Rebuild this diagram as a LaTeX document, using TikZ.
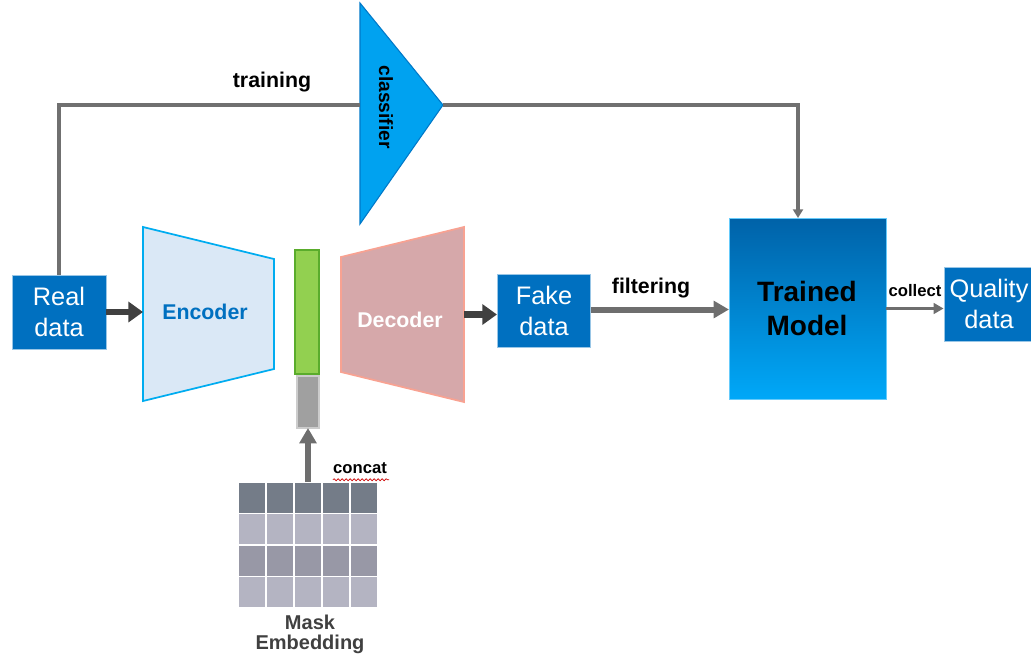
\documentclass[tikz,border=0pt]{standalone}
\usepackage{fontspec}
\setmainfont{Liberation Sans}
\usetikzlibrary{arrows.meta,decorations.pathmorphing,calc}

\definecolor{boxblue}{RGB}{0,112,192}
\definecolor{clsblue}{RGB}{0,162,240}
\definecolor{clsedge}{RGB}{0,120,200}
\definecolor{encfill}{RGB}{218,232,246}
\definecolor{encedge}{RGB}{0,172,240}
\definecolor{decfill}{RGB}{214,168,170}
\definecolor{decedge}{RGB}{248,162,146}
\definecolor{latgreen}{RGB}{146,208,80}
\definecolor{latedge}{RGB}{90,172,44}
\definecolor{mskgray}{RGB}{160,160,160}
\definecolor{mskedge}{RGB}{204,204,204}
\definecolor{darkarrow}{RGB}{64,64,64}
\definecolor{midarrow}{RGB}{110,110,110}
\definecolor{linegray}{RGB}{112,112,112}
\definecolor{tmtop}{RGB}{0,98,168}
\definecolor{tmbottom}{RGB}{0,168,248}
\definecolor{rowdark}{RGB}{116,124,136}
\definecolor{rowlight}{RGB}{180,180,194}
\definecolor{rowmid}{RGB}{152,152,166}
\definecolor{labelgray}{RGB}{64,64,64}

\tikzset{
  databox/.style={fill=boxblue, draw=boxblue!40!white, line width=0.6pt,
    text=white, align=center, inner sep=0pt,
    font=\fontsize{19}{23}\selectfont},
  holder/.style={inner sep=0pt, outer sep=0pt},
  boldlabel/.style={font=\bfseries\fontsize{16}{19}\selectfont, inner sep=0pt},
  fatarrow/.style={draw=darkarrow, line width=5pt,
    -{Triangle[length=11pt,width=15pt]}},
  midarrowstyle/.style={draw=midarrow, line width=4.5pt,
    -{Triangle[length=11.5pt,width=12.5pt]}},
  thinline/.style={draw=linegray, line width=2.3pt},
  thinarrow/.style={draw=linegray, line width=2.3pt,
    -{Triangle[length=6.5pt,width=7.5pt]}},
  collectarrow/.style={draw=midarrow, line width=2.6pt,
    -{Triangle[length=7.5pt,width=8pt]}},
  cell/.style={draw=white, line width=1.2pt},
}

\begin{document}
\begin{tikzpicture}[x=0.75pt,y=-0.75pt]
\useasboundingbox (0,0) rectangle (1031,654);

% data boxes
\node[databox, minimum width=70.5pt, minimum height=55.5pt] (rd) at (59,312) {Real\\data};
\node[databox, minimum width=70pt, minimum height=55pt] (fk) at (544,311) {Fake\\data};
\node[databox, minimum width=67.5pt, minimum height=55.5pt] (qd) at (989,304) {Quality\\data};

% trained model with vertical gradient
\node[holder, minimum width=117.75pt, minimum height=135.75pt,
      top color=tmtop, bottom color=tmbottom, draw=tmbottom!60!white, line width=0.6pt] (tm) at (807.5,308.5) {};
\node[align=center, font=\bfseries\fontsize{21}{25.5}\selectfont, inner sep=0pt] (tmtext) at (807,308) {Trained\\Model};

% encoder trapezoid
\node[holder, minimum width=98.25pt, minimum height=130.5pt] (enc) at (208.5,314) {};
\draw[fill=encfill, draw=encedge, line width=1.3pt]
  (enc.north west) -- ($(enc.north east)+(0,32)$) -- ($(enc.south east)+(0,-32)$) -- (enc.south west) -- cycle;
\node[text=boxblue, font=\bfseries\fontsize{16}{19}\selectfont, inner sep=0pt] (enctext) at (205,312) {Encoder};

% decoder trapezoid
\node[holder, minimum width=92.25pt, minimum height=131.25pt] (dec) at (402.5,314.5) {};
\draw[fill=decfill, draw=decedge, line width=1.3pt]
  ($(dec.north west)+(0,30)$) -- (dec.north east) -- (dec.south east) -- ($(dec.south west)+(0,-30)$) -- cycle;
\node[text=white, font=\bfseries\fontsize{16}{19}\selectfont, inner sep=0pt] (dectext) at (400,320) {Decoder};

% latent code and mask slot
\node[holder, minimum width=18pt, minimum height=93pt, fill=latgreen, draw=latedge, line width=1pt] (lat) at (307,312) {};
\node[holder, minimum width=16.5pt, minimum height=39pt, fill=mskgray, draw=mskedge, line width=1pt] (msk) at (308,402) {};

% classifier triangle
\coordinate (clsin) at (360,105);
\coordinate (clstip) at (443,105);
\draw[fill=clsblue, draw=clsedge, line width=0.8pt] (360,3) -- (clstip) -- (360,224) -- cycle;
\node[rotate=-90, font=\bfseries\fontsize{14.4}{17}\selectfont, inner sep=0pt] (clstext) at (386,107) {classifier};

% mask embedding grid
\node[holder, minimum width=105pt, minimum height=94.5pt] (me) at (308,545) {};
\foreach \r/\c in {0/rowdark,1/rowlight,2/rowmid,3/rowlight}{
  \foreach \k in {0,...,4}{
    \fill[\c, cell] ($(me.north west)+(28*\k,31.5*\r)$) rectangle ++(28,31.5);
  }
}
\node[align=center, text=labelgray, font=\bfseries\fontsize{15}{15}\selectfont, inner sep=0pt] (metext) at (310,634) {Mask\\Embedding};

% connectors
\draw[thinline] (rd.north) -- (rd.north |- clsin) -- (clsin);
\coordinate (tmin) at (798,218);
\draw[thinarrow] (clstip) -| (tmin);
\draw[fatarrow] (rd.east) -- (rd.east -| enc.west);
\draw[fatarrow] (dec.east) -- (dec.east -| fk.west);
\draw[midarrowstyle] ($(fk.east)+(0,-1.5)$) -- ($(fk.east -| tm.west)+(0,-1.5)$);
\draw[collectarrow] (tm.east) -- (tm.east -| qd.west);
\draw[midarrowstyle] (me.north) -- (msk.south);

% labels
\node[boldlabel] (trainlbl) at (272,82) {training};
\node[boldlabel] (filtlbl) at (651,288) {filtering};
\node[font=\bfseries\fontsize{12.5}{15}\selectfont, inner sep=0pt] (collbl) at (915,291) {collect};
\node[font=\bfseries\fontsize{12.5}{15}\selectfont, inner sep=0pt] (cc) at (360,468) {concat};
\draw[red!80!black, line width=0.5pt, decorate, decoration={snake, amplitude=0.8pt, segment length=3pt}]
  ($(cc.south west)+(0,6)$) -- ($(cc.south east)+(2,6)$);
\end{tikzpicture}
\end{document}
